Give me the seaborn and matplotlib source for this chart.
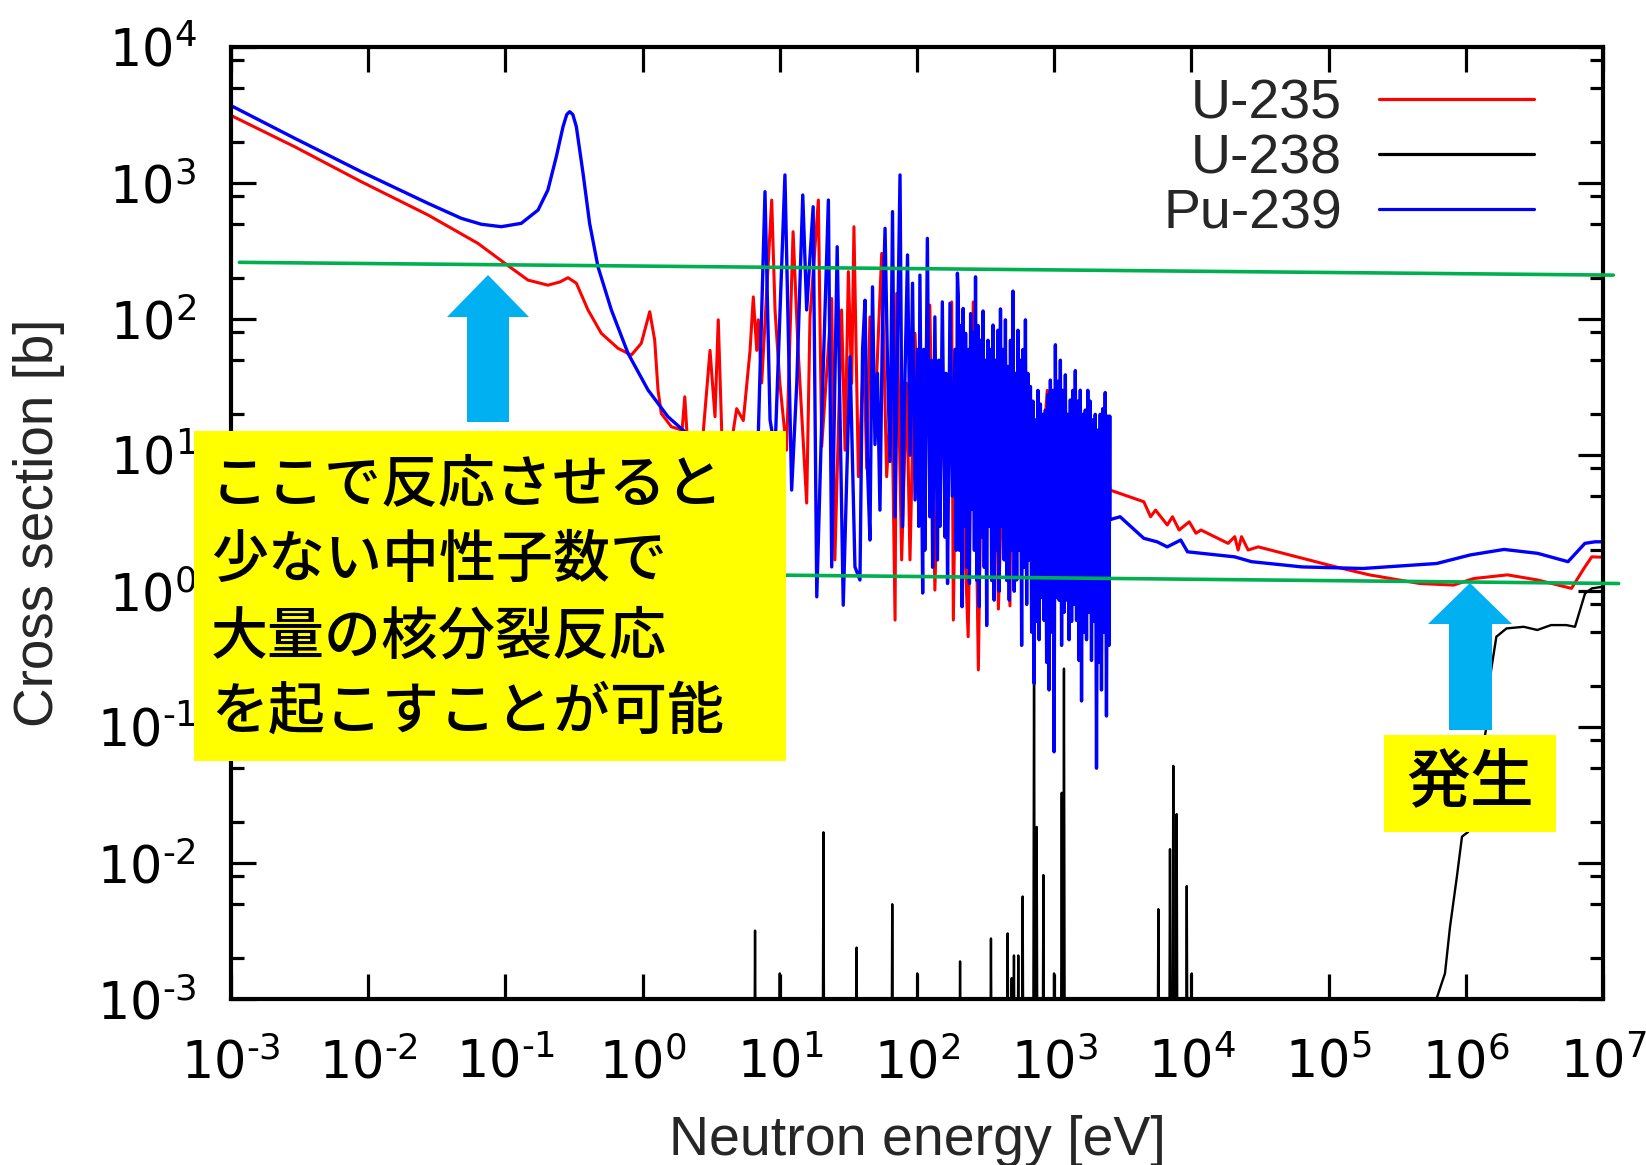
import numpy as np
import pandas as pd
import matplotlib
matplotlib.use("Agg")
import matplotlib.pyplot as plt
import seaborn as sns
from matplotlib.patches import Rectangle, Polygon
from matplotlib.ticker import FixedLocator, FuncFormatter, NullLocator

# ---------------- fission cross sections (energy in eV, cross section in barn) ----------------
u235_energy = [
    1.0e-3, 2.91e-3, 8.9e-3, 0.0273, 0.0631, 0.0989, 0.146, 0.204, 0.25, 0.286, 0.329, 0.40,
    0.50, 0.662, 0.828, 0.978, 1.127, 1.225, 1.295, 1.368, 1.62, 1.94, 2.03, 2.12, 2.5, 2.77,
    3.1, 3.37, 3.56, 3.79, 4.3, 4.85, 5.42, 6.07, 6.41, 6.79, 6.97, 7.38, 8.73, 9.23, 10.0,
    11.2, 12.5, 13.6, 15.7, 16.6, 19.1, 20.2, 23.9, 25.2, 28.2, 29.9, 31.6, 33.4, 34.7, 37.4,
    41.0, 43.0, 45.4, 49.4, 55.3, 60.1, 65.4, 69.2, 71.1, 77.3, 84.1, 88.9, 96.7, 105, 114,
    124, 135, 147, 165, 179, 184, 195, 206, 236, 257, 280, 300, 329, 370, 392, 438, 476, 492,
    540, 611, 700, 786, 890, 1014, 1150, 1306, 1480, 1680, 1900, 2160, 2470, 2550, 4500, 5040,
    5480, 6670, 7280, 8140, 9640, 10800, 11750, 15600, 18500, 20700, 21900, 23200, 25900,
    30700, 1.13e5, 1.98e5, 4.62e5, 8.13e5, 1.14e6, 2.01e6, 3.34e6, 5.89e6, 7.38e6, 8.28e6,
    1.0e7,
]
u235_xs = [
    3150, 1855, 1026, 584, 361, 258, 194, 178, 188, 202, 184, 117,
    78.8, 61.1, 54.5, 66.5, 113.6, 70.3, 30.2, 20.3, 16.2, 15.3, 26.9, 13, 11, 15,
    59, 19.2, 99, 12.9, 10, 22, 18, 59, 146, 59, 99, 34, 752, 117, 34,
    10.9, 440, 59, 4.45, 104, 752, 11.6, 142, 1.70, 117, 10.9, 224, 33.8, 479, 6.95,
    60, 8, 104, 19.2, 305, 6.95, 33.8, 0.614, 155, 1.70, 33.8, 1.70, 78.8, 6.2, 40,
    127, 1.02, 33.8, 3.53, 134, 0.614, 50, 19.2, 0.463, 134, 0.264, 40, 15.3, 46.4, 0.74, 35.7, 0.78, 46,
    3, 20, 2, 5, 30, 25, 3, 6, 20, 15, 2, 5, 8, 5.55, 4.55, 3.53,
    3.95, 3.07, 3.53, 2.82, 3.24, 2.67, 2.82, 2.45, 2.25, 2.52, 2.01, 2.52, 2.01,
    2.12, 1.51, 1.32, 1.14, 1.11, 1.24, 1.32, 1.21, 1.05, 1.51, 1.79,
    1.78,
]

# Pu-239: thermal part, isolated resonances, dense resolved-resonance band, smooth fast part
pu239_energy = [
    1.0e-3, 2.91e-3, 8.9e-3, 0.0273, 0.0477, 0.0668, 0.0933, 0.1305, 0.173, 0.204, 0.235,
    0.263, 0.28, 0.294, 0.31, 0.329, 0.368, 0.411, 0.473, 0.592, 0.783, 1.095, 1.53, 2.03,
    2.62, 4.0, 5.13, 6.94, 7.8, 8.49, 9.23, 10.9, 12.2, 13.3, 14.7, 15.7, 17.5, 18.6, 20.5,
    22.6, 23.9, 26.2, 29.0, 32.5, 35.3,
    38.4, 40.1, 41.8, 43.6, 45.4, 47.4, 49.4, 51.5, 53.7, 56.0, 58.5, 61.0, 63.6, 66.3, 69.2,
    72.1, 75.2, 78.5, 81.8, 85.3, 89.0, 92.8,
    96.8, 101, 103, 105, 110, 112, 114, 119, 124, 127, 130, 135, 141, 144, 147, 153, 160, 163,
    167, 174, 181, 189, 193, 197,
    200, 204, 208, 213, 217, 222, 226, 231, 236, 241,
    246, 251, 256, 262, 267, 273, 278, 284, 290, 296,
    303, 309, 316, 322, 329, 336, 343, 350, 358, 365,
    373, 381, 389, 397, 406, 414, 423, 432, 441, 451,
    460, 470, 480, 490, 500, 511, 522, 533, 544, 556,
    567, 579, 592, 604, 617, 630, 643, 657, 671, 685,
    700, 714, 729, 745, 761, 777, 793, 810, 827, 845,
    862, 881, 899, 918, 938, 958, 978, 998, 1020, 1041,
    1063, 1086, 1109, 1132, 1156, 1181, 1206, 1231, 1257, 1284,
    1311, 1339, 1367, 1396, 1425, 1455, 1486, 1518, 1550, 1582,
    1616, 1650, 1685, 1720, 1757, 1794, 1832, 1870, 1910, 1950,
    1992, 2034, 2077, 2121, 2165, 2211, 2258, 2306, 2354, 2404,
    2455, 2507, 2540,
    2550, 3020, 4500, 5620, 6670, 8360, 9370, 20700, 27400, 64000, 1.77e5, 6.14e5, 1.08e6,
    1.90e6, 3.34e6, 5.56e6, 7.38e6, 8.75e6, 1.0e7,
]
pu239_xs = [
    3720, 2140, 1215, 711, 552, 499, 479, 507, 635, 891, 1567,
    2603, 3200, 3356, 3200, 2603, 1183, 507, 243, 117, 56.1, 30.2, 19.2, 14.9,
    10, 7.5, 7, 12, 866, 18.2, 10.9, 1150, 5.55, 34, 819, 117, 671, 0.91, 30,
    752, 1.51, 341, 0.79, 53, 1.51,
    1.21, 60, 138, 8, 2.38, 173, 12, 40, 3.95, 90, 466, 44.8, 9, 618, 3.53,
    70, 1150, 2.98, 40, 297, 10, 184,
    4.69, 60, 3, 211, 0.97, 60, 2, 393, 3.53, 50, 1.5, 104, 1.7, 50, 3, 134, 2.5, 40,
    1.14, 131, 5, 60, 2, 218,
    150, 2, 90, 0.77, 120, 3, 78.8, 1.5, 60, 1.14,
    110, 4, 80, 2, 205, 1.2, 90, 0.77, 70, 2.5,
    115, 1.5, 50, 0.56, 70, 3, 60, 1.2, 90.6, 0.86,
    50, 2, 83, 1.0, 119, 3, 60, 1.70, 99, 1.2,
    45, 0.86, 70, 2, 161, 1.0, 40, 1.21, 83, 2,
    50, 0.40, 60, 1.5, 99, 0.8, 40, 1.70, 32, 0.5,
    25, 0.21, 18.2, 0.6, 30, 0.44, 23.8, 0.9, 20, 0.61,
    21.5, 0.3, 28, 0.188, 35.7, 0.5, 30, 0.066, 64.9, 0.9,
    35, 0.86, 50, 0.40, 30, 0.7, 39, 0.86, 20, 0.44,
    25.5, 0.6, 30, 0.8, 41.9, 0.61, 25, 0.31, 30.1, 0.156,
    20, 0.5, 21.5, 0.44, 30, 0.7, 25, 0.31, 18.2, 0.6,
    20, 0.05, 15.3, 0.3, 20, 0.188, 22, 0.5, 28.9, 0.121,
    19.4, 0.4, 19.4,
    3.36, 3.53, 2.45, 2.31, 2.12, 2.38, 1.95, 1.79, 1.65, 1.51, 1.47, 1.60, 1.85,
    2.03, 1.90, 1.65, 2.25, 2.31, 2.31,
]

# U-238: isolated resonance spikes poking above 1 mb, then the fast-fission threshold
u238_floor = 1.0e-4
u238_spike_energy = [6.6, 10.0, 20.8, 36.3, 66, 100.5, 206, 346, 458, 490, 509, 547, 589,
                     713, 745, 834, 998, 1135, 1178, 5740, 6980, 7380, 7810, 9250, 10050]
u238_spike_xs = [3.2e-3, 1.55e-3, 0.0169, 2.4e-3, 5.0e-3, 1.55e-3, 1.9e-3, 2.8e-3, 3.05e-3,
                 1.43e-3, 2.1e-3, 2.1e-3, 5.7e-3, 0.34, 0.0185, 8.2e-3, 1.55e-3, 0.033, 0.27,
                 4.6e-3, 0.0127, 0.052, 0.023, 6.8e-3, 1.55e-3]
u238_fast_energy = [5.6e5, 6.1e5, 7.05e5, 7.67e5, 8.6e5, 9.38e5, 1.04e6, 1.40e6, 1.53e6, 1.67e6,
                    1.98e6, 2.64e6, 3.32e6, 4.18e6, 5.4e6, 6.25e6, 7.4e6, 8.3e6, 1.0e7]
u238_fast_xs = [5e-4, 1.0e-3, 1.55e-3, 3.4e-3, 7.9e-3, 0.0157, 0.017, 0.095, 0.264, 0.463,
                0.533, 0.548, 0.519, 0.564, 0.564, 0.548, 0.965, 1.05, 1.08]

series_names = ["U-235", "U-238", "Pu-239"]
series_colors = ["#ff0000", "#000000", "#0000ff"]
series_widths = [2.2, 1.7, 2.4]

x_ticks = [10.0 ** k for k in range(-3, 8)]
y_ticks = [10.0 ** k for k in range(-3, 5)]

box_lines = ["ここで反応させると", "少ない中性子数で", "大量の核分裂反応", "を起こすことが可能"]
box_small = "発生"

# guide lines (energy, cross section) at both ends
guide_upper = ([1.15e-3, 1.19e7], [262, 211])
guide_lower = ([3.0, 1.30e7], [1.33, 1.14])

# ---------------- assemble U-238 polyline ----------------
u238_energy, u238_xs = [1.0e-3], [u238_floor]
for e, s in zip(u238_spike_energy, u238_spike_xs):
    u238_energy += [e / 1.015, e, e * 1.015]
    u238_xs += [u238_floor, s, u238_floor]
u238_energy += u238_fast_energy
u238_xs += u238_fast_xs

frames = {
    "U-235": pd.DataFrame({"energy": u235_energy, "xs": u235_xs}),
    "U-238": pd.DataFrame({"energy": u238_energy, "xs": u238_xs}),
    "Pu-239": pd.DataFrame({"energy": pu239_energy, "xs": pu239_xs}),
}

# ---------------- figure ----------------
sns.set_style("ticks")
plt.rcParams["font.family"] = ["Liberation Sans", "Noto Sans CJK JP", "DejaVu Sans"]

W, H = 1646, 1165
fig = plt.figure(figsize=(W / 100, H / 100), dpi=100)
ax = fig.add_axes([231 / W, 1 - 999.3 / H, 1372 / W, 952.1 / H])
ax.set_xscale("log")
ax.set_yscale("log")

for name, color, lw in zip(series_names, series_colors, series_widths):
    d = frames[name]
    sns.lineplot(data=d, x="energy", y="xs", ax=ax, color=color, lw=lw,
                 sort=False, estimator=None, label=name)

ax.set_xlim(1e-3, 1e7)
ax.set_ylim(1e-3, 1e4)

# guide lines
for gx, gy in (guide_upper, guide_lower):
    ax.plot(gx, gy, color="#00b050", lw=2.6, clip_on=False, zorder=5)

fmt = FuncFormatter(
    lambda v, _: (r"$\mathregular{10^{\text{-}%d}}$" % -int(round(np.log10(v))))
    if v < 1 else (r"$\mathregular{10^{%d}}$" % int(round(np.log10(v)))))
ax.xaxis.set_major_locator(FixedLocator(x_ticks))
ax.xaxis.set_minor_locator(NullLocator())
ax.yaxis.set_major_locator(FixedLocator(y_ticks))
ax.yaxis.set_minor_locator(FixedLocator([m * 10.0 ** k for k in range(-3, 4) for m in (2, 5, 8)]))
ax.xaxis.set_major_formatter(fmt)
ax.yaxis.set_major_formatter(fmt)
ax.tick_params(which="both", direction="in", top=True, right=True, width=2.3, colors="black")
ax.tick_params(which="major", length=18)
ax.tick_params(which="minor", length=9.5)
ax.tick_params(axis="both", labelfontfamily="Liberation Sans Narrow")
ax.tick_params(axis="x", labelsize=36.5, pad=28)
ax.tick_params(axis="y", labelsize=36.5, pad=25)
for sp in ax.spines.values():
    sp.set_linewidth(3)
    sp.set_color("black")

ax.set_xlabel("Neutron energy [eV]", fontsize=40)
ax.set_ylabel("Cross section [b]", fontsize=39.5)
ax.xaxis.set_label_coords(0.5, -0.122)
ax.yaxis.set_label_coords(-0.121, 0.5)

leg = ax.legend(loc="upper right", bbox_to_anchor=(0.950, 0.9675), frameon=False,
                markerfirst=False, fontsize=40, handlelength=2.8, handletextpad=0.665,
                labelspacing=0.056, borderaxespad=0, borderpad=0)
for h in leg.get_lines():
    h.set_linewidth(2.3)


def fx(px):
    return px / W


def fy(py):
    return 1 - py / H


# yellow callouts
fig.add_artist(Rectangle((fx(194), fy(761)), (785.5 - 194) / W, (761 - 431) / H,
                         transform=fig.transFigure, facecolor="#ffff00", edgecolor="none", zorder=6))
fig.add_artist(Rectangle((fx(1384), fy(832)), (1556 - 1384) / W, (832 - 735) / H,
                         transform=fig.transFigure, facecolor="#ffff00", edgecolor="none", zorder=6))
for i, line in enumerate(box_lines):
    fig.text(fx(211), fy(485 + 76 * i), line, fontsize=41, family="Noto Sans CJK JP",
             fontweight="medium", ha="left", va="center", color="black", zorder=7)
fig.text(fx(1470), fy(784), box_small, fontsize=46, family="Noto Sans CJK JP",
         fontweight="medium", ha="center", va="center", color="black", zorder=7)

# arrows
arrow_shapes = [
    [(488, 275), (529, 317), (509, 317), (509, 422), (467, 422), (467, 317), (447, 317)],
    [(1470, 583), (1512, 624), (1492, 624), (1492, 730), (1449, 730), (1449, 624), (1428, 624)],
]
for shape in arrow_shapes:
    fig.add_artist(Polygon([(fx(a), fy(b)) for a, b in shape], closed=True,
                           transform=fig.transFigure, facecolor="#00b0f0", edgecolor="none", zorder=6))

fig.savefig("out.png", dpi=100)
